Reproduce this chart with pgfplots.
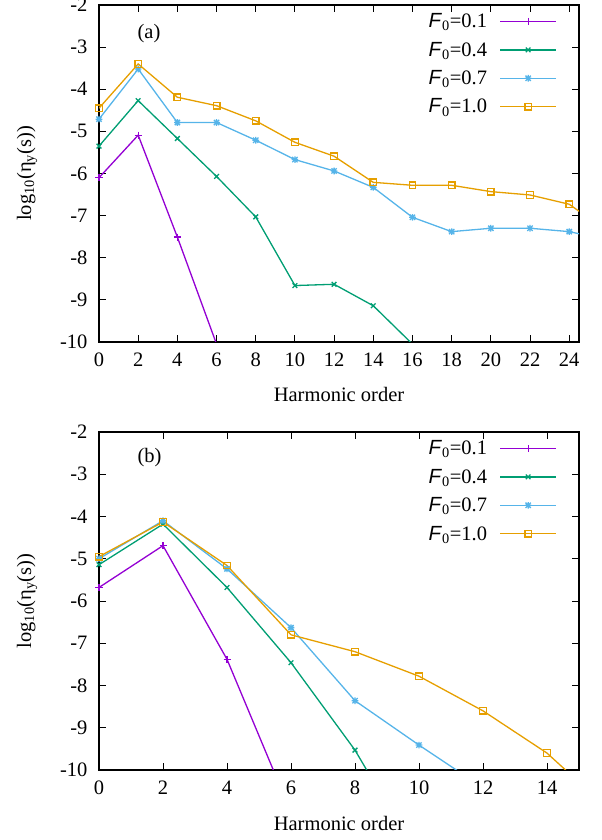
\documentclass[border=0pt]{standalone}
\usepackage{fontspec}
\setmainfont{Liberation Serif}
\setsansfont{Liberation Sans}
\usepackage{pgfplots}
\pgfplotsset{compat=1.18}
\definecolor{cpur}{HTML}{9400D3}
\definecolor{cgrn}{HTML}{009E73}
\definecolor{cblu}{HTML}{56B4E9}
\definecolor{corg}{HTML}{E69F00}
\pgfdeclareplotmark{plusx}{%
  \pgfpathmoveto{\pgfqpoint{-\pgfplotmarksize}{0pt}}\pgfpathlineto{\pgfqpoint{\pgfplotmarksize}{0pt}}%
  \pgfpathmoveto{\pgfqpoint{0pt}{-\pgfplotmarksize}}\pgfpathlineto{\pgfqpoint{0pt}{\pgfplotmarksize}}%
  \pgfpathmoveto{\pgfqpoint{-.8\pgfplotmarksize}{-.8\pgfplotmarksize}}\pgfpathlineto{\pgfqpoint{.8\pgfplotmarksize}{.8\pgfplotmarksize}}%
  \pgfpathmoveto{\pgfqpoint{-.8\pgfplotmarksize}{.8\pgfplotmarksize}}\pgfpathlineto{\pgfqpoint{.8\pgfplotmarksize}{-.8\pgfplotmarksize}}%
  \pgfusepathqstroke}
\newcommand{\fs}{\fontsize{20.5bp}{24bp}\selectfont}
\pgfplotsset{
  myaxis/.style={
    scale only axis, width=480bp,
    xmin=0, ymin=-10, ymax=-2,
    ytick={-10,-9,...,-2},
    yticklabels={-10,-9,-8,-7,-6,-5,-4,-3,-2},
    /pgf/number format/assume math mode=true,
    axis line style={line width=1.4bp},
    major tick length=7bp,
    tick style={line width=0.9bp, black},
    tick label style={font=\fs},
    xticklabel style={yshift=-7bp},
    yticklabel style={xshift=-8bp},
    label style={font=\fs},
    xlabel={Harmonic order},
    ylabel={log\textsubscript{10}(η\textsubscript{y}(s))},
    ylabel style={at={(axis description cs:-0.15,0.5)}, anchor=center},
    clip mode=global,
    legend style={draw=none, fill=none, at={(axis description cs:1,1)}, anchor=north east,
      xshift=-22bp, yshift=-7bp, font=\fs, row sep=9.8bp, column sep=11bp, inner sep=0pt,
      nodes={inner sep=1.5bp}},
    legend cell align=right,
    legend plot pos=right,
    legend image code/.code={\draw[##1, mark repeat=2, mark phase=2] plot coordinates {(0bp,0bp) (28bp,0bp) (56bp,0bp)};},
  },
  spur/.style={color=cpur, line width=1.3bp, mark=+, mark size=3.5bp, mark options={solid}},
  sgrn/.style={color=cgrn, line width=1.3bp, mark=x, mark size=3.3bp, mark options={solid}},
  sblu/.style={color=cblu, line width=1.3bp, mark=plusx, mark size=3.3bp, mark options={solid}},
  sorg/.style={color=corg, line width=1.3bp, mark=square, mark size=3.3bp, mark options={solid}},
}
\newcommand{\Fz}[1]{\textsf{\itshape F}\textsubscript{0}=#1}
\begin{document}
\begin{tikzpicture}
\useasboundingbox (0,0) rectangle (602bp,840bp);
% ---------- (a) ----------
\begin{axis}[myaxis, at={(99bp,498bp)}, anchor=south west, height=337bp,
  xmax=24.5, xtick={0,2,...,24},
  xlabel style={at={(axis description cs:0.5,-0.157)}, anchor=center}]
\addplot[spur] coordinates {(0,-6.10) (2,-5.09) (4,-7.51) (6,-10.05) (8,-12.5)};
\addlegendentry{\Fz{0.1}}
\addplot[sgrn] coordinates {(0,-5.35) (2,-4.27) (4,-5.17) (6,-6.07) (8,-7.03) (10,-8.66) (12,-8.63) (14,-9.14) (16,-10.05) (18,-11.5)};
\addlegendentry{\Fz{0.4}}
\addplot[sblu] coordinates {(0,-4.71) (2,-3.52) (4,-4.79) (6,-4.79) (8,-5.21) (10,-5.67) (12,-5.94) (14,-6.33) (16,-7.04) (18,-7.38) (20,-7.30) (22,-7.30) (24,-7.38) (26,-7.58)};
\addlegendentry{\Fz{0.7}}
\addplot[sorg] coordinates {(0,-4.45) (2,-3.40) (4,-4.19) (6,-4.39) (8,-4.75) (10,-5.26) (12,-5.59) (14,-6.21) (16,-6.28) (18,-6.28) (20,-6.43) (22,-6.51) (24,-6.73) (26,-7.39)};
\addlegendentry{\Fz{1.0}}
\node[font=\fs] at (axis cs:2.55,-2.67) {(a)};
\end{axis}
% ---------- (b) ----------
\begin{axis}[myaxis, at={(99bp,70bp)}, anchor=south west, height=338bp,
  xmax=15, xtick={0,2,...,14},
  xlabel style={at={(axis description cs:0.5,-0.157)}, anchor=center}]
\addplot[spur] coordinates {(0,-5.68) (2,-4.69) (4,-7.38) (6,-11.0)};
\addlegendentry{\Fz{0.1}}
\addplot[sgrn] coordinates {(0,-5.14) (2,-4.18) (4,-5.68) (6,-7.46) (8,-9.53) (10,-12.1)};
\addlegendentry{\Fz{0.4}}
\addplot[sblu] coordinates {(0,-5.00) (2,-4.10) (4,-5.24) (6,-6.63) (8,-8.36) (10,-9.41) (12,-10.42)};
\addlegendentry{\Fz{0.7}}
\addplot[sorg] coordinates {(0,-4.95) (2,-4.13) (4,-5.16) (6,-6.80) (8,-7.20) (10,-7.78) (12,-8.60) (14,-9.60) (16,-10.98)};
\addlegendentry{\Fz{1.0}}
\node[font=\fs] at (axis cs:1.58,-2.61) {(b)};
\end{axis}
\end{tikzpicture}
\end{document}
